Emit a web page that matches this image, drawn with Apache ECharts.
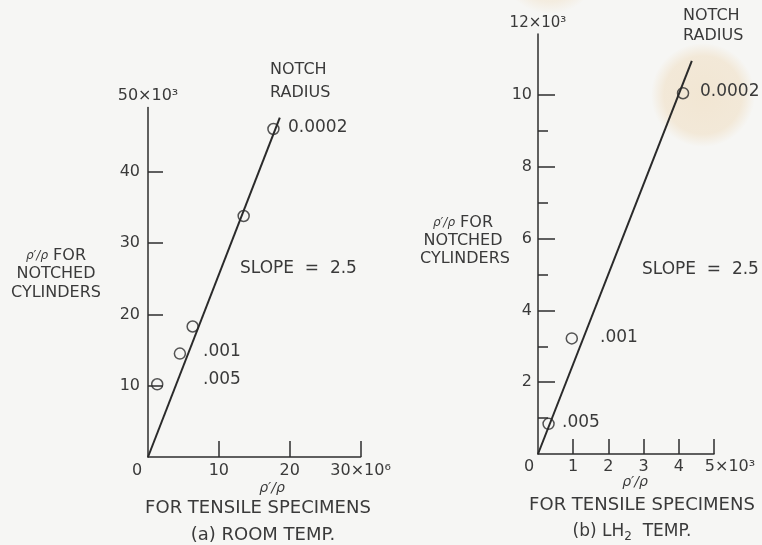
<!DOCTYPE html>
<html>
<head>
<meta charset="utf-8">
<script src="https://cdn.jsdelivr.net/npm/echarts@6/dist/echarts.min.js"></script>
<style>
    html, body { margin: 0; padding: 0; background: #f6f6f4; }
    #chart { width: 762px; height: 545px; }
</style>
</head>
<body>
<div id="chart"></div>
<script>
// (a) room temp: x in 10^6, y in 10^3
const roomPoints = [[1.3, 10.2], [4.5, 14.5], [6.3, 18.3], [13.5, 33.8], [17.7, 46.0]];
const roomFit = [[0, 0], [18.6, 47.6]];
const roomXLabels = [0, 10, 20, 30];
const roomYLabels = [10, 20, 30, 40];

// (b) LH2 temp: x and y in 10^3
const lh2Points = [[0.3, 0.84], [0.96, 3.22], [4.12, 10.05]];
const lh2Fit = [[0, 0], [4.37, 10.95]];
const lh2XLabels = [0, 1, 2, 3, 4, 5];
const lh2YLabels = [2, 4, 6, 8, 10];
const lh2YMinor = [1, 3, 5, 7, 9];

const ink = '#3a3a3a';
const font = '"DejaVu Sans", sans-serif';

document.addEventListener('DOMContentLoaded', function () {
    const chartDom = document.getElementById('chart');
    const myChart = echarts.init(chartDom);

    function txt(text, x, y, align, size, rich) {
        return {
            type: 'text', x: x, y: y, z: 10,
            style: {
                text: text,
                fill: ink,
                font: (size || 16) + 'px ' + font,
                align: align || 'left',
                verticalAlign: 'middle',
                rich: rich
            }
        };
    }

    const italicRich = {
        i: { fontFamily: font, fontSize: 12, fontStyle: 'italic', fill: ink, color: ink },
        n: { fontFamily: font, fontSize: 16, fill: ink, color: ink }
    };

    function stain(cx, cy, r, a) {
        return {
            type: 'circle', z: -1,
            shape: { cx: cx, cy: cy, r: r },
            style: {
                fill: new echarts.graphic.RadialGradient(0.5, 0.5, 0.5, [
                    { offset: 0, color: 'rgba(236, 208, 165, ' + a + ')' },
                    { offset: 0.75, color: 'rgba(236, 208, 165, ' + (a * 0.85) + ')' },
                    { offset: 1, color: 'rgba(236, 208, 165, 0)' }
                ])
            }
        };
    }

    const axisLine = { lineStyle: { color: '#2e2e2e', width: 1.5 } };
    const labelBase = { color: ink, fontFamily: font, fontSize: 16 };
    const markStyle = { color: 'rgba(0,0,0,0)', borderColor: '#2a2a2a', borderWidth: 1.5 };

    const option = {
        animation: false,
        backgroundColor: '#f6f6f4',
        grid: [
            { left: 148, top: 107.6, width: 212.6, height: 349.4 },
            { left: 538, top: 34, width: 176, height: 420 }
        ],
        xAxis: [
            {
                type: 'value', gridIndex: 0, min: 0, max: 30, interval: 10,
                axisLine: axisLine,
                splitLine: { show: false },
                axisTick: { inside: true, length: 16, customValues: [10, 20, 30], lineStyle: { color: '#2e2e2e', width: 1.5 } },
                axisLabel: Object.assign({}, labelBase, {
                    margin: 6,
                    customValues: roomXLabels,
                    formatter: function (v) {
                        if (v === 0) return '{o|0}';
                        if (v === 30) return '30×10⁶';
                        return String(v);
                    },
                    rich: { o: { fontFamily: font, fontSize: 16, color: ink, padding: [0, 22, 0, 0] } }
                })
            },
            {
                type: 'value', gridIndex: 1, min: 0, max: 5, interval: 1,
                axisLine: axisLine,
                splitLine: { show: false },
                axisTick: { inside: true, length: 15, customValues: [1, 2, 3, 4, 5], lineStyle: { color: '#2e2e2e', width: 1.5 } },
                axisLabel: Object.assign({}, labelBase, {
                    margin: 5,
                    customValues: lh2XLabels,
                    formatter: function (v) {
                        if (v === 0) return '{o|0}';
                        if (v === 5) return '{e|5×10³}';
                        return String(v);
                    },
                    rich: {
                        o: { fontFamily: font, fontSize: 16, color: ink, padding: [0, 18, 0, 0] },
                        e: { fontFamily: font, fontSize: 16, color: ink, padding: [0, 0, 0, 32] }
                    }
                })
            }
        ],
        yAxis: [
            {
                type: 'value', gridIndex: 0, position: 'left', min: 0, max: 49, interval: 10,
                name: '50×10³', nameLocation: 'end', nameGap: 4,
                nameTextStyle: { color: ink, fontFamily: font, fontSize: 16 },
                axisLine: axisLine,
                splitLine: { show: false },
                axisTick: { inside: true, length: 15, customValues: roomYLabels, lineStyle: { color: '#2e2e2e', width: 1.5 } },
                axisLabel: Object.assign({}, labelBase, { margin: 8, customValues: roomYLabels })
            },
            {
                type: 'value', gridIndex: 1, position: 'left', min: 0, max: 11.7, interval: 2,
                name: '12×10³', nameLocation: 'end', nameGap: 3,
                nameTextStyle: { color: ink, fontFamily: font, fontSize: 15 },
                axisLine: axisLine,
                splitLine: { show: false },
                axisTick: { inside: true, length: 17, customValues: lh2YLabels, lineStyle: { color: '#2e2e2e', width: 1.5 } },
                axisLabel: Object.assign({}, labelBase, { margin: 6, customValues: lh2YLabels })
            },
            {
                // minor ticks at odd values on (b)
                type: 'value', gridIndex: 1, position: 'left', offset: 0, min: 0, max: 11.7, interval: 1,
                axisLine: { show: false },
                splitLine: { show: false },
                axisTick: { inside: true, length: 10, customValues: lh2YMinor, lineStyle: { color: '#2e2e2e', width: 1.5 } },
                axisLabel: { show: false }
            }
        ],
        series: [
            {
                type: 'line', xAxisIndex: 0, yAxisIndex: 0, data: roomFit,
                symbol: 'none', lineStyle: { color: '#2a2a2a', width: 2 }
            },
            {
                type: 'scatter', xAxisIndex: 0, yAxisIndex: 0, data: roomPoints, z: 3,
                symbol: 'circle', symbolSize: 11, itemStyle: markStyle
            },
            {
                type: 'line', xAxisIndex: 1, yAxisIndex: 1, data: lh2Fit,
                symbol: 'none', lineStyle: { color: '#2a2a2a', width: 2 }
            },
            {
                type: 'scatter', xAxisIndex: 1, yAxisIndex: 1, data: lh2Points, z: 3,
                symbol: 'circle', symbolSize: 11, itemStyle: markStyle
            }
        ],
        graphic: [
            stain(703, 95, 52, 0.42),
            stain(550, -36, 50, 0.3),

            // (a) annotations
            txt('NOTCH', 270, 70),
            txt('RADIUS', 270, 93),
            txt('0.0002', 288, 128, 'left', 17),
            txt('SLOPE  =  2.5', 240, 269, 'left', 17),
            txt('.001', 203, 352, 'left', 17),
            txt('.005', 203, 380, 'left', 17),
            txt('{i|ρ′/ρ}{n| FOR}', 56, 256, 'center', 16, italicRich),
            txt('NOTCHED', 56, 274, 'center'),
            txt('CYLINDERS', 56, 293, 'center'),
            txt('{i|ρ′/ρ}', 272, 488, 'center', 14, { i: { fontFamily: font, fontSize: 14, fontStyle: 'italic', fill: ink, color: ink } }),
            txt('FOR TENSILE SPECIMENS', 258, 508, 'center', 18),
            txt('(a) ROOM TEMP.', 263, 535, 'center', 18),

            // (b) annotations
            txt('NOTCH', 683, 16),
            txt('RADIUS', 683, 36),
            txt('0.0002', 700, 92, 'left', 17),
            txt('SLOPE  =  2.5', 642, 270, 'left', 17),
            txt('.001', 600, 338, 'left', 17),
            txt('.005', 562, 423, 'left', 17),
            txt('{i|ρ′/ρ}{n| FOR}', 463, 223, 'center', 16, italicRich),
            txt('NOTCHED', 463, 241, 'center'),
            txt('CYLINDERS', 465, 259, 'center'),
            txt('{i|ρ′/ρ}', 635, 482, 'center', 14, { i: { fontFamily: font, fontSize: 14, fontStyle: 'italic', fill: ink, color: ink } }),
            txt('FOR TENSILE SPECIMENS', 642, 505, 'center', 18),
            txt('(b) LH{s|2}  TEMP.', 632, 532, 'center', 17, {
                s: { fontFamily: font, fontSize: 12, fill: ink, color: ink, padding: [10, 0, 0, 0] }
            })
        ]
    };

    myChart.setOption(option);
});
</script>
</body>
</html>
